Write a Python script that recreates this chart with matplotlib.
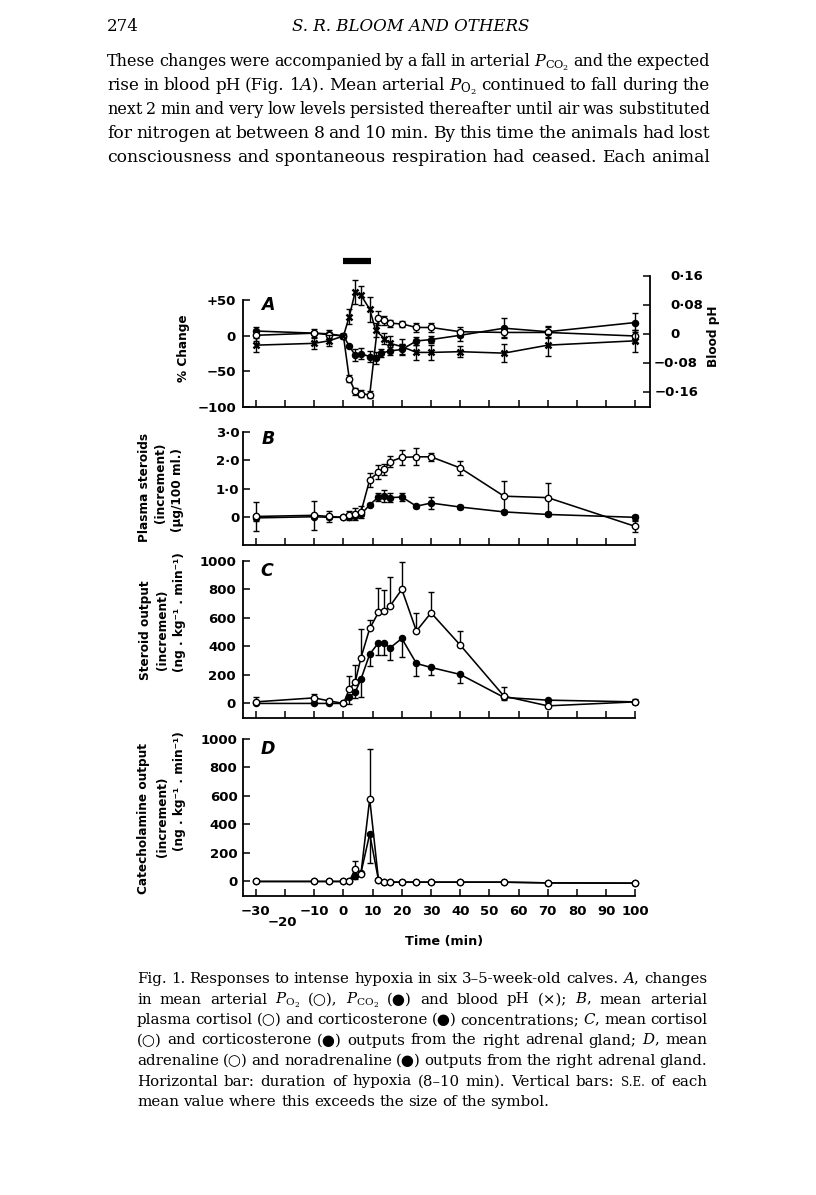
import matplotlib
matplotlib.use('Agg')
import matplotlib.pyplot as plt
import matplotlib.transforms as mtrans

plt.rcParams['mathtext.fontset'] = 'dejavuserif'

# ---------------- DATA ----------------
x_ticks = [-30, -20, -10, 0, 10, 20, 30, 40, 50, 60, 70, 80, 90, 100]
x_ticklabels = ['−30', '', '−10', '0', '10', '20', '30', '40', '50', '60', '70', '80', '90', '100']
hypoxia_bar = [0, 9.4]

# Panel A: % change of Po2 (open), Pco2 (filled); blood pH change (x) on right axis
a_po2_t = [-30, -10, -5, 0, 2, 4, 6, 9, 12, 14, 16, 20, 25, 30, 40, 55, 70, 100]
a_po2 = [1, 4, 2, 0, -60, -78, -81, -83, 25, 22, 18, 17, 12, 12, 6, 5, 5, 0]
a_po2_err = [8, 6, 6, 0, 5, 5, 5, 5, 10, 6, 5, 4, 6, 6, 7, 7, 8, 9]
a_pco2_t = [-30, -10, -5, 0, 2, 4, 6, 9, 11, 13, 16, 20, 25, 30, 40, 55, 70, 100]
a_pco2 = [7, 4, 3, 0, -14, -27, -25, -29, -31, -24, -21, -19, -7, -5, 1, 11, 6, 19]
a_pco2_err = [6, 0, 0, 0, 0, 8, 8, 8, 8, 6, 6, 8, 6, 5, 8, 14, 8, 14]
a_ph_t = [-30, -10, -5, 0, 2, 4, 6, 9, 11, 14, 16, 20, 25, 30, 40, 55, 70, 100]
a_ph = [-0.030, -0.025, -0.018, -0.005, 0.049, 0.116, 0.108, 0.069, 0.012, -0.012,
        -0.025, -0.034, -0.050, -0.050, -0.048, -0.052, -0.030, -0.018]
a_ph_err = [0.02, 0.015, 0.015, 0, 0.02, 0.033, 0.026, 0.035, 0.02, 0.015, 0.02,
            0.02, 0.02, 0.02, 0.015, 0.025, 0.03, 0.03]
a_left_ticks = [-100, -50, 0, 50]
a_left_labels = ['−100', '−50', '0', '+50']
a_right_ticks = [0.16, 0.08, 0, -0.08, -0.16]
a_right_labels = ['0·16', '0·08', '0', '−0·08', '−0·16']

# Panel B: plasma cortisol (open) and corticosterone (filled), µg/100 ml
b_t = [-30, -10, -5, 0, 2, 4, 6, 9, 12, 14, 16, 20, 25, 30, 40, 55, 70, 100]
b_cortisol = [0.03, 0.07, 0.03, 0, 0.07, 0.12, 0.18, 1.32, 1.58, 1.68, 1.95, 2.1, 2.12, 2.12, 1.73, 0.74, 0.69, -0.32]
b_cortisol_err = [0.5, 0.5, 0.2, 0, 0.15, 0.2, 0.2, 0.25, 0.25, 0.2, 0.2, 0.25, 0.3, 0.15, 0.25, 0.55, 0.5, 0.2]
b_cort = [-0.02, 0.02, 0.0, 0, 0.02, 0.05, 0.1, 0.44, 0.71, 0.75, 0.69, 0.71, 0.39, 0.5, 0.36, 0.19, 0.1, 0.0]
b_cort_err = [0.1, 0.05, 0.05, 0, 0.05, 0.05, 0.05, 0.05, 0.15, 0.2, 0.15, 0.15, 0.05, 0.2, 0.08, 0.05, 0.05, 0.08]
b_ticks = [0, 1, 2, 3]
b_labels = ['0', '1·0', '2·0', '3·0']

# Panel C: steroid output, cortisol (open, SE up) and corticosterone (filled, SE down)
c_t = [-30, -10, -5, 0, 2, 4, 6, 9, 12, 14, 16, 20, 25, 30, 40, 55, 70, 100]
c_cortisol = [11, 39, 18, 0, 100, 147, 320, 525, 638, 647, 684, 799, 507, 635, 409, 51, -17, 11]
c_cortisol_err = [35, 30, 15, 0, 93, 120, 200, 60, 168, 147, 203, 189, 124, 143, 98, 61, 20, 20]
c_cort = [0, 0, 0, 0, 46, 77, 170, 345, 425, 420, 390, 455, 280, 252, 203, 42, 23, 11]
c_cort_err = [0, 0, 0, 0, 50, 40, 125, 80, 85, 80, 85, 130, 90, 50, 60, 20, 0, 15]
cd_ticks = [0, 200, 400, 600, 800, 1000]
cd_labels = ['0', '200', '400', '600', '800', '1000']

# Panel D: catecholamine output, adrenaline (open) and noradrenaline (filled)
d_t = [-30, -10, -5, 0, 2, 4, 6, 9, 12, 14, 16, 20, 25, 30, 40, 55, 70, 100]
d_adr = [0, 0, 0, 0, 0, 87, 54, 580, 12, -5, -5, -5, -5, -5, -5, -5, -10, -12]
d_adr_err = [0, 0, 0, 0, 0, 60, 0, 350, 0, 0, 0, 0, 0, 0, 0, 0, 0, 0]
d_nor = [0, 0, 0, 0, 0, 35, 60, 334, 10, -5, -5, -5, -5, -5, -5, -5, -10, -12]
d_nor_err = [0, 0, 0, 0, 0, 20, 0, 205, 0, 0, 0, 0, 0, 0, 0, 0, 0, 0]

# ---------------- FIGURE ----------------
W, H = 816, 1195
fig = plt.figure(figsize=(W / 100, H / 100), dpi=100)
fig.patch.set_facecolor('white')

XL = (-34.4, 105.0)
SANS = 'DejaVu Sans'
TICKFS = 9.5
LABFS = 8.7


def px_axes(left, top, right, bottom):
    return fig.add_axes([left / W, 1 - bottom / H, (right - left) / W, (bottom - top) / H])


def style_axes(ax, ylim, yticks, ylabels, right_end=100, pad=4):
    ax.set_xlim(*XL)
    ax.set_ylim(*ylim)
    ax.spines['top'].set_visible(False)
    ax.spines['right'].set_visible(False)
    ax.spines['bottom'].set_bounds(XL[0], right_end)
    for s in ax.spines.values():
        s.set_linewidth(1.3)
    ax.set_xticks(x_ticks)
    ax.set_xticklabels([])
    ax.set_yticks(yticks)
    ax.set_yticklabels(ylabels, fontsize=TICKFS, fontweight='bold', family=SANS)
    ax.tick_params(axis='both', direction='in', length=5, width=1.1)
    ax.tick_params(axis='y', pad=pad)
    ax.patch.set_alpha(0)


def draw_series(ax, t, y, lo, hi, filled, marker='o', ms=4.6, mew=1.0):
    tt = [a for a, l, h in zip(t, lo, hi) if (l or h)]
    yy = [b for b, l, h in zip(y, lo, hi) if (l or h)]
    ll = [l for l, h in zip(lo, hi) if (l or h)]
    hh = [h for l, h in zip(lo, hi) if (l or h)]
    if tt:
        ax.errorbar(tt, yy, yerr=[ll, hh], fmt='none', ecolor='k', elinewidth=1.0,
                    capsize=2.4, capthick=1.0, zorder=2)
    ax.plot(t, y, '-', color='k', lw=1.15, marker=marker, ms=ms,
            mfc=('k' if filled else 'white'), mec='k', mew=mew,
            zorder=(3 if filled else 4))


zeros = [0] * 20

# ---- Panel A ----
axA = px_axes(243, 276, 650, 407)
style_axes(axA, (-100, 84.5), a_left_ticks, a_left_labels, right_end=XL[1], pad=5)
axA.spines['left'].set_bounds(-100, 50)
axA.spines['bottom'].set_bounds(XL[0], XL[1])
twA = axA.twinx()
twA.set_ylim(-0.2006, 0.1608)
for k in ['left', 'top', 'bottom']:
    twA.spines[k].set_visible(False)
twA.spines['right'].set_linewidth(1.3)
twA.set_yticks(a_right_ticks)
twA.set_yticklabels([])
twA.tick_params(axis='y', direction='in', length=5, width=1.1)
trR = mtrans.blended_transform_factory(fig.transFigure, twA.transData)
for v, lab in zip(a_right_ticks, a_right_labels):
    if lab.startswith('−'):
        twA.text(698 / W, v, lab, transform=trR, ha='right', va='center',
                 fontsize=TICKFS, fontweight='bold', family=SANS)
    else:
        twA.text(670 / W, v, lab, transform=trR, ha='left', va='center',
                 fontsize=TICKFS, fontweight='bold', family=SANS)

draw_series(axA, a_pco2_t, a_pco2, a_pco2_err, a_pco2_err, True, ms=4.4)
draw_series(axA, a_po2_t, a_po2, a_po2_err, a_po2_err, False)
draw_series(twA, a_ph_t, a_ph, a_ph_err, a_ph_err, True, marker='x', ms=4.0, mew=1.8)
axA.plot(hypoxia_bar, [105.6, 105.6], color='k', lw=4.5, solid_capstyle='butt', clip_on=False)

# ---- Panel B ----
axB = px_axes(243, 431.7, 650, 545)
style_axes(axB, (-0.97, 3.0), b_ticks, b_labels, pad=2.5)
draw_series(axB, b_t, b_cort, b_cort_err, b_cort_err, True, ms=4.4)
draw_series(axB, b_t, b_cortisol, b_cortisol_err, b_cortisol_err, False)

# ---- Panel C ----
axC = px_axes(243, 560.7, 650, 717.7)
style_axes(axC, (-100, 1000), cd_ticks, cd_labels, pad=5)
draw_series(axC, c_t, c_cort, c_cort_err, zeros[:len(c_t)], True, ms=4.4)
draw_series(axC, c_t, c_cortisol, zeros[:len(c_t)], c_cortisol_err, False)

# ---- Panel D ----
axD = px_axes(243, 739, 650, 895.7)
style_axes(axD, (-100, 1000), cd_ticks, cd_labels, pad=4)
axD.set_xticklabels(x_ticklabels, fontsize=TICKFS, fontweight='bold', family=SANS)
axD.tick_params(axis='x', pad=7)
draw_series(axD, d_t, d_nor, d_nor_err, zeros[:len(d_t)], True, ms=4.4)
draw_series(axD, d_t, d_adr, zeros[:len(d_t)], d_adr_err, False)
fig.text(282 / W, 1 - 923 / H, '−20', ha='center', va='center', fontsize=TICKFS,
         fontweight='bold', family=SANS)


# ---- panel letters and axis labels ----
def ftext(x, y, s, **kw):
    return fig.text(x / W, 1 - y / H, s, **kw)


for (x, y, s) in [(268, 305, 'A'), (268, 439, 'B'), (267, 571, 'C'), (268, 749, 'D')]:
    ftext(x, y, s, ha='center', va='center', fontsize=12.5, fontstyle='italic',
          fontweight='bold', family=SANS)

lab = dict(ha='center', va='center', rotation=90, fontsize=LABFS, fontweight='bold', family=SANS)
ftext(184, 348, '% Change', **lab)
ftext(714, 336, 'Blood pH', **lab)
ftext(145, 487, 'Plasma steroids', **lab)
ftext(161, 483, '(increment)', **lab)
ftext(177, 490, '(µg/100 ml.)', **lab)
ftext(145, 630, 'Steroid output', **lab)
ftext(162, 630, '(increment)', **lab)
ftext(180, 612, '(ng . kg⁻¹ . min⁻¹)', **lab)
ftext(143, 818, 'Catecholamine output', **lab)
ftext(162, 817, '(increment)', **lab)
ftext(180, 791, '(ng . kg⁻¹ . min⁻¹)', **lab)
ftext(444, 942, 'Time (min)', ha='center', va='center', fontsize=LABFS + 0.5,
      fontweight='bold', family=SANS)

# ---------------- PAGE TEXT ----------------
renderer = fig.canvas.get_renderer()
SERIF = ['DejaVu Serif', 'DejaVu Sans']


def line_text(line, x0, x1, ybase, fs, justify=True):
    words = line.split(' ')
    size = fs
    while True:
        objs = []
        for w in words:
            kw = dict(fontsize=size, family=SERIF)
            if w.startswith('S.E.'):
                kw['fontsize'] = size * 0.78
            objs.append(fig.text(0, 1 - ybase / H, w, ha='left', va='baseline', **kw))
        widths = [o.get_window_extent(renderer).width for o in objs]
        if justify and len(objs) > 1:
            gap = (x1 - x0 - sum(widths)) / (len(objs) - 1)
        else:
            gap = size * 100 / 72 * 0.30
        if gap >= size * 100 / 72 * 0.2 or size < fs * 0.85:
            break
        for o in objs:
            o.remove()
        size *= 0.98
    x = x0
    for o, w in zip(objs, widths):
        o.set_x(x / W)
        x += w + gap


ftext(107, 31, '274', ha='left', va='baseline', fontsize=12, family=SERIF)
ftext(411, 31, 'S. R. BLOOM AND OTHERS', ha='center', va='baseline', fontsize=12,
      fontstyle='italic', family=SERIF)

body = [
    r'These changes were accompanied by a fall in arterial $P_{\mathrm{CO}_2}$ and the expected',
    r'rise in blood pH (Fig. 1$A$). Mean arterial $P_{\mathrm{O}_2}$ continued to fall during the',
    'next 2 min and very low levels persisted thereafter until air was substituted',
    'for nitrogen at between 8 and 10 min. By this time the animals had lost',
    'consciousness and spontaneous respiration had ceased. Each animal',
]
for i, ln in enumerate(body):
    line_text(ln, 107, 710, 66 + 24 * i, 12.3)

caption = [
    r'Fig. 1. Responses to intense hypoxia in six 3–5-week-old calves. $A$, changes',
    r'in mean arterial $P_{\mathrm{O}_2}$ (○), $P_{\mathrm{CO}_2}$ (●) and blood pH (×); $B$, mean arterial',
    r'plasma cortisol (○) and corticosterone (●) concentrations; $C$, mean cortisol',
    r'(○) and corticosterone (●) outputs from the right adrenal gland; $D$, mean',
    r'adrenaline (○) and noradrenaline (●) outputs from the right adrenal gland.',
    r'Horizontal bar: duration of hypoxia (8–10 min). Vertical bars: S.E. of each',
    r'mean value where this exceeds the size of the symbol.',
]
for i, ln in enumerate(caption):
    line_text(ln, 137, 707, 983 + 20.5 * i, 10.8, justify=(i < len(caption) - 1))

fig.savefig('out.png', dpi=100, facecolor='white')
